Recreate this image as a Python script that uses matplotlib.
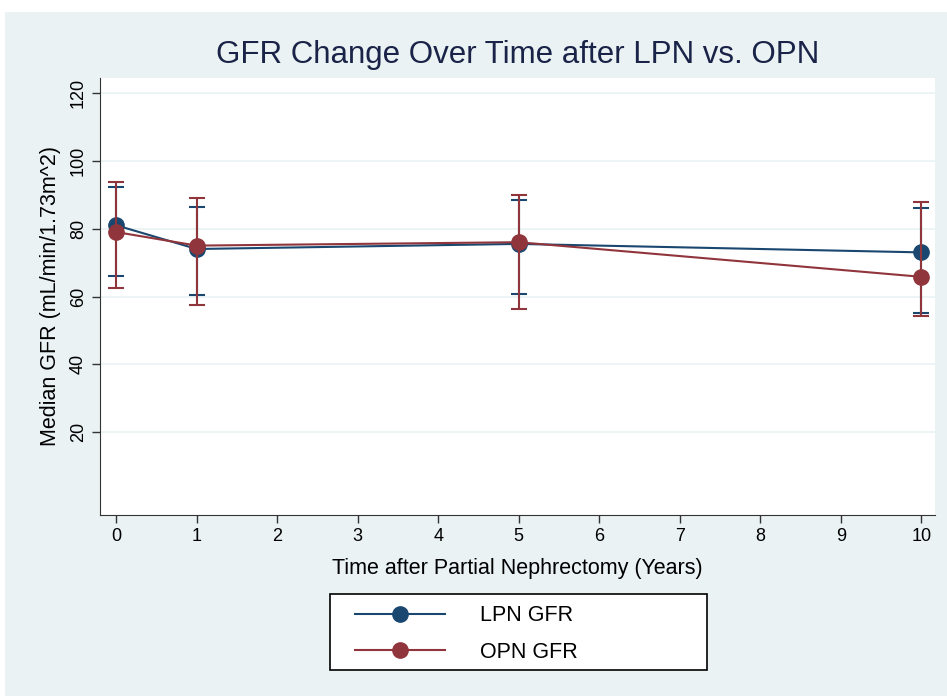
import matplotlib
matplotlib.use("Agg")
import matplotlib.pyplot as plt
from matplotlib.patches import Rectangle

# data
years = [0, 1, 5, 10]
lpn_median = [81.0, 74.0, 75.5, 73.0]
lpn_low = [66.0, 60.5, 60.8, 55.2]
lpn_high = [92.3, 86.4, 88.3, 86.1]
opn_median = [79.0, 75.0, 76.0, 65.8]
opn_low = [62.5, 57.5, 56.3, 54.3]
opn_high = [93.8, 89.0, 90.0, 87.9]

x_ticks = list(range(0, 11))
y_ticks = [20, 40, 60, 80, 100, 120]

navy = "#1a476f"
maroon = "#90353b"
bg = "#eaf2f3"

plt.rcParams["font.family"] = ["Liberation Sans", "DejaVu Sans"]

fig = plt.figure(figsize=(9.47, 6.96), dpi=100)
fig.patch.set_facecolor("white")
fig.patches.append(Rectangle((5 / 947, 0), 1, 1 - 12 / 696, transform=fig.transFigure,
                             facecolor=bg, edgecolor="none", zorder=-10))

ax = fig.add_axes([100 / 947, 1 - 515 / 696, 835 / 947, 437 / 696])
ax.set_facecolor("white")

for med, lo, hi, col, name, z in [
    (lpn_median, lpn_low, lpn_high, navy, "LPN GFR", 3),
    (opn_median, opn_low, opn_high, maroon, "OPN GFR", 4),
]:
    yerr = [[m - l for m, l in zip(med, lo)], [h - m for m, h in zip(med, hi)]]
    ax.errorbar(years, med, yerr=yerr, fmt="none", ecolor=col, elinewidth=1.5,
                capsize=6, capthick=1.5, zorder=z)
    ax.plot(years, med, color=col, lw=1.5, marker="o", markersize=11,
            markerfacecolor=col, markeredgecolor=col, label=name, zorder=z)

ax.set_xlim(-0.2, 10.17)
ax.set_ylim(-4.4, 124.4)
ax.set_xticks(x_ticks)
ax.set_yticks(y_ticks)
ax.set_yticklabels([str(v) for v in y_ticks], rotation=90, va="center")
ax.tick_params(axis="both", labelsize=13, direction="out", length=6, width=1, color="#333333")
ax.grid(axis="y", color=bg, lw=1.2)
ax.set_axisbelow(True)
for side in ["top", "right"]:
    ax.spines[side].set_visible(False)
for side in ["left", "bottom"]:
    ax.spines[side].set_color("#333333")

ax.set_xlabel("Time after Partial Nephrectomy (Years)", fontsize=15.5, labelpad=9)
ax.set_ylabel("Median GFR (mL/min/1.73m^2)", fontsize=15.5, labelpad=6)
fig.text(518 / 947, 1 - 55 / 696, "GFR Change Over Time after LPN vs. OPN",
         ha="center", va="center", fontsize=22.5, color="#1a2348")

# legend box drawn separately so it can be wider than its contents
fig.patches.append(Rectangle((330 / 947, 1 - 670 / 696), 377 / 947, 76 / 696,
                             transform=fig.transFigure, facecolor="white",
                             edgecolor="black", lw=1.2, zorder=1))
leg = fig.legend(loc="center left", bbox_to_anchor=(355 / 947, 1 - 634 / 696), ncol=1,
                 fontsize=15.5, handlelength=4.2, handletextpad=1.6, labelspacing=0.72,
                 borderpad=0, frameon=False, borderaxespad=0)

fig.savefig("out.png", dpi=100)
